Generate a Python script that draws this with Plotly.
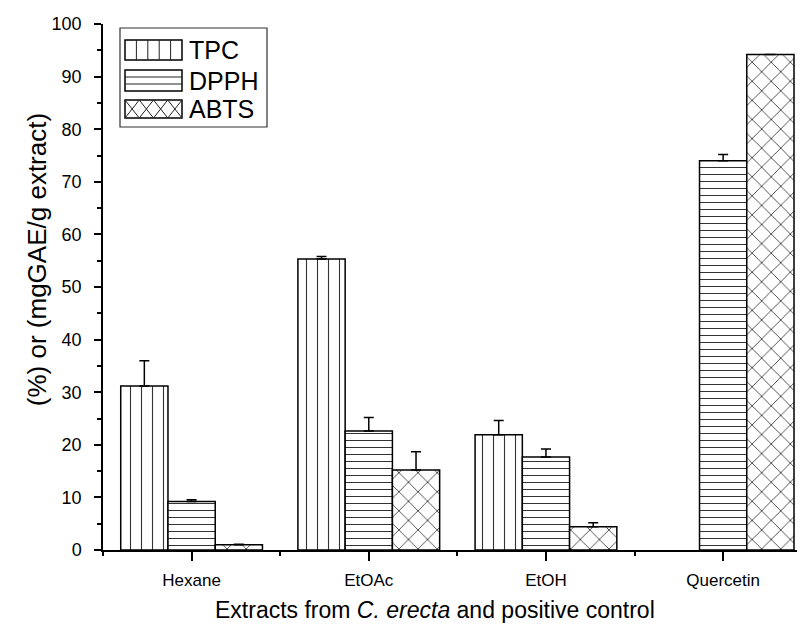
import plotly.graph_objects as go

categories = ["Hexane", "EtOAc", "EtOH", "Quercetin"]
cat_pos = [0, 1, 2, 3]
series_names = ["TPC", "DPPH", "ABTS"]
tpc = [31.2, 55.3, 21.9, None]
tpc_err = [4.8, 0.5, 2.7, 0]
dpph = [9.2, 22.6, 17.7, 74.0]
dpph_err = [0.35, 2.6, 1.5, 1.2]
abts = [1.0, 15.2, 4.4, 94.2]
abts_err = [0.1, 3.5, 0.8, 0]
y_ticks = [0, 10, 20, 30, 40, 50, 60, 70, 80, 90, 100]

FONT = "Liberation Sans, Arial, sans-serif"

patterns = {"TPC": dict(shape="|", size=11, solidity=0.1),
            "DPPH": dict(shape="-", size=7, solidity=0.15),
            "ABTS": dict(shape="x", size=13.5, solidity=0.12)}

fig = go.Figure()
for name, vals, errs in zip(series_names, [tpc, dpph, abts], [tpc_err, dpph_err, abts_err]):
    p = patterns[name]
    fig.add_trace(go.Bar(
        x=cat_pos, y=vals, name=name, showlegend=False,
        marker=dict(color="white", line=dict(color="black", width=1.5),
                    pattern=dict(shape=p["shape"], size=p["size"], solidity=p["solidity"],
                                 fgcolor="#333", bgcolor="white", fillmode="replace")),
        error_y=dict(type="data", symmetric=False, array=errs, arrayminus=[0]*len(errs),
                     color="black", thickness=1.5, width=5),
    ))

# page body has an 8px margin, so the figure is sized 797x620
fig.update_layout(
    width=797, height=620,
    margin=dict(l=95, r=0, t=16, b=78),
    paper_bgcolor="white", plot_bgcolor="white",
    barmode="group", bargap=0.2, bargroupgap=0,
    font=dict(family=FONT, color="black"),
    showlegend=False,
)
fig.update_xaxes(
    range=[-0.5, 3.462], tickvals=cat_pos, ticktext=categories,
    ticks="outside", ticklen=9, tickwidth=1.5, tickcolor="black",
    minor=dict(tickvals=[-0.5, 0.5, 1.5, 2.5], ticks="outside", ticklen=4, tickwidth=1.5, tickcolor="black"),
    showline=True, linewidth=2, linecolor="black", showgrid=False, zeroline=False,
    tickfont=dict(size=17, family=FONT), ticklabelstandoff=5,
)
fig.update_yaxes(
    range=[0, 100], tickvals=y_ticks,
    ticks="outside", ticklen=7, tickwidth=1.5, tickcolor="black",
    minor=dict(dtick=5, ticks="outside", ticklen=4, tickwidth=1.5, tickcolor="black"),
    showline=True, linewidth=1.5, linecolor="black", showgrid=False, zeroline=False,
    tickfont=dict(size=18, family=FONT), ticklabelstandoff=9,
)

# axis titles
fig.add_annotation(text="Extracts from <i>C. erecta</i> and positive control",
                   xref="paper", yref="paper", x=0.473, y=0, yshift=-60, yanchor="middle",
                   showarrow=False, font=dict(size=23, family=FONT))
fig.add_annotation(text="(%) or (mgGAE/g extract)", textangle=-90,
                   xref="paper", yref="paper", x=0, xshift=-66, y=0.551, xanchor="center",
                   showarrow=False, font=dict(size=26, family=FONT))

# custom legend (pixel offsets from plot top-left)
def pshape(x0, x1, y0, y1, **kw):
    return dict(type="rect", xref="paper", yref="paper", xsizemode="pixel", ysizemode="pixel",
                xanchor=0, yanchor=1, x0=x0, x1=x1, y0=-y0, y1=-y1, **kw)

def pline(x0, y0, x1, y1, w=1.0, c="#222"):
    return dict(type="line", xref="paper", yref="paper", xsizemode="pixel", ysizemode="pixel",
                xanchor=0, yanchor=1, x0=x0, x1=x1, y0=-y0, y1=-y1, line=dict(color=c, width=w))

shapes = [pshape(17, 164, 4, 103, line=dict(color="#333", width=1.2), fillcolor="white", layer="above")]
sx0, sx1 = 22, 79
rows = [(16, 36), (46, 67), (76, 94)]
# TPC swatch
shapes.append(pshape(sx0, sx1, rows[0][0], rows[0][1], line=dict(color="black", width=1.5), layer="above"))
for k in range(1, 5):
    xx = sx0 + k * (sx1 - sx0) / 5
    shapes.append(pline(xx, rows[0][0], xx, rows[0][1]))
# DPPH swatch
shapes.append(pshape(sx0, sx1, rows[1][0], rows[1][1], line=dict(color="black", width=1.5), layer="above"))
for k in range(1, 3):
    yy = rows[1][0] + k * (rows[1][1] - rows[1][0]) / 3
    shapes.append(pline(sx0, yy, sx1, yy))
# ABTS swatch
shapes.append(pshape(sx0, sx1, rows[2][0], rows[2][1], line=dict(color="black", width=1.5), layer="above"))
dw = (sx1 - sx0) / 4
for k in range(4):
    xa = sx0 + k * dw
    shapes.append(pline(xa, rows[2][0], xa + dw, rows[2][1]))
    shapes.append(pline(xa, rows[2][1], xa + dw, rows[2][0]))
for s in shapes:
    s.setdefault("layer", "above")
fig.update_layout(shapes=shapes)

for name, (r0, r1) in zip(series_names, rows):
    fig.add_annotation(text=name, xref="paper", yref="paper", x=0, xshift=84, xanchor="left",
                       y=1, yshift=-(r0 + r1) / 2, yanchor="middle", showarrow=False,
                       font=dict(size=25, family=FONT))

fig.write_html("out.html")
